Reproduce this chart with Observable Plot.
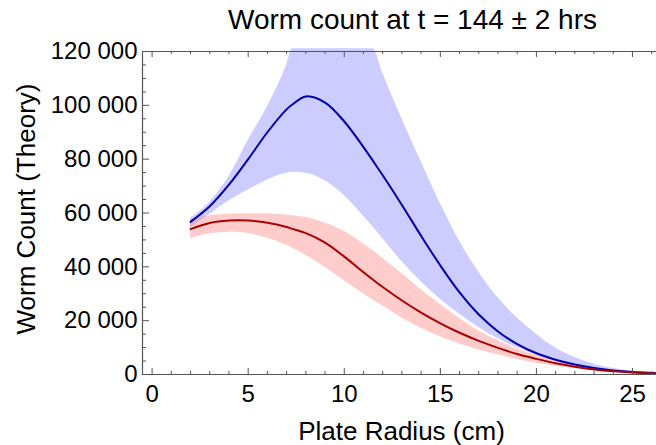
<!DOCTYPE html>
<html>
<head>
<meta charset="utf-8">
<script src="https://cdn.jsdelivr.net/npm/d3@7"></script>
<script src="https://cdn.jsdelivr.net/npm/@observablehq/plot@0.6"></script>
<style>
  html, body { margin: 0; padding: 0; background: #fff; }
  #chart svg { display: block; }
</style>
</head>
<body>
<div id="chart"></div>
<script>
// ---- data (values in thousands of worms) ----
const radius   = [2, 3, 4, 5, 6, 7, 7.3, 8, 9, 10, 11, 11.5, 12, 13, 14, 15, 16, 17, 18, 19, 20, 21, 22, 23, 24, 25, 26.25];
const blueMid  = [56.7, 62.5, 70.5, 80, 90, 98.5, 100.3, 103.3, 101, 94, 84.5, 79.3, 74, 63, 51.5, 40.5, 30.5, 22.3, 16, 11.3, 7.9, 5.5, 3.7, 2.4, 1.5, 0.9, 0.45];
const blueLow  = [54.5, 59.5, 64.5, 68.5, 72.3, 74.8, 75.1, 74.8, 72, 66.5, 58.8, 54.8, 50.5, 42, 34.5, 28, 22.5, 17.5, 13.3, 9.9, 7.1, 5.1, 3.5, 2.3, 1.4, 0.85, 0.4];
const blueHigh = [58, 64, 73.5, 87, 99.5, 115, 121, 121, 121, 121, 121, 121, 112, 95, 79, 63.5, 49.5, 38, 28.5, 21, 15, 9.8, 6.3, 3.8, 2.2, 1.2, 0.6];
const redMid   = [54, 56.3, 57.2, 57.2, 56.4, 54.8, 54.1, 52.5, 49, 43.8, 38, 35.2, 32.5, 27.5, 23, 19, 15.5, 12.5, 9.9, 7.6, 5.8, 4.2, 2.9, 1.9, 1.2, 0.75, 0.4];
const redLow   = [50.5, 52.3, 52.8, 52.4, 50.6, 48, 47, 44.3, 39.8, 34.8, 30, 27.7, 25.5, 21, 17.2, 14, 11.3, 9.1, 7.3, 5.6, 4.2, 3.1, 2.2, 1.5, 0.95, 0.55, 0.3];
const redHigh  = [57.5, 59, 59.5, 59.7, 59.6, 59.2, 59, 58.3, 56.3, 53.2, 48.5, 46, 43.2, 37.5, 31.5, 26, 20.8, 16.2, 12.5, 9.5, 7.1, 5.2, 3.7, 2.5, 1.6, 1.0, 0.5];

const xTicks = [0, 5, 10, 15, 20, 25];
const yTicks = [0, 20000, 40000, 60000, 80000, 100000, 120000];
const xDomain = [-0.5, 26.25];
const yDomain = [0, 120000];

const titleText = "Worm count at t = 144 ± 2 hrs";
const xLabel = "Plate Radius (cm)";
const yLabel = "Worm Count (Theory)";

// ---- build table ----
const rows = radius.map((r, i) => ({
  r,
  bMid: blueMid[i] * 1000, bLo: blueLow[i] * 1000, bHi: blueHigh[i] * 1000,
  rMid: redMid[i] * 1000, rLo: redLow[i] * 1000, rHi: redHigh[i] * 1000
}));

const xMinor = d3.range(0, 27, 1).filter(v => v <= xDomain[1] && v % 5 !== 0);
const yMinor = d3.range(0, 120001, 5000).filter(v => v % 20000 !== 0);

const W = 656, H = 445, mT = 51, mB = 71, mL = 142, mR = 0;
const FW = W - mL - mR, FH = H - mT - mB;
const axisColor = "#555";
const fmtY = d => d === 0 ? "0" : d3.format(",")(d).replace(/,/g, " ");

const chart = Plot.plot({
  width: W, height: H,
  marginTop: mT, marginBottom: mB, marginLeft: mL, marginRight: mR,
  style: { fontFamily: "'Liberation Sans', Arial, sans-serif", fontSize: "24px", color: "#000", background: "#fff" },
  x: { domain: xDomain },
  y: { domain: yDomain },
  marks: [
    Plot.areaY(rows, { x: "r", y1: "bLo", y2: "bHi", fill: "#8080ff", fillOpacity: 0.4, curve: "monotone-x" }),
    Plot.areaY(rows, { x: "r", y1: "rLo", y2: "rHi", fill: "#ff8080", fillOpacity: 0.4, curve: "catmull-rom" }),
    Plot.line(rows, { x: "r", y: "bMid", stroke: "#0000aa", strokeWidth: 2, curve: "catmull-rom" }),
    Plot.line(rows, { x: "r", y: "rMid", stroke: "#aa0000", strokeWidth: 2, curve: "catmull-rom" }),
    // frame (left, top, bottom)
    Plot.ruleX([xDomain[0]], { stroke: axisColor, strokeWidth: 1.2 }),
    Plot.ruleY([yDomain[0]], { stroke: axisColor, strokeWidth: 1.2 }),
    Plot.ruleY([yDomain[1]], { stroke: axisColor, strokeWidth: 1.2 }),
    // inward ticks bottom
    Plot.tickX(xTicks, { x: d => d, insetTop: FH - 6, stroke: axisColor }),
    Plot.tickX(xMinor, { x: d => d, insetTop: FH - 3, stroke: axisColor }),
    // inward ticks top
    Plot.tickX(xTicks, { x: d => d, insetBottom: FH - 6, stroke: axisColor }),
    Plot.tickX(xMinor, { x: d => d, insetBottom: FH - 3, stroke: axisColor }),
    // inward ticks left
    Plot.tickY(yTicks, { y: d => d, insetRight: FW - 7, stroke: axisColor }),
    Plot.tickY(yMinor, { y: d => d, insetRight: FW - 4, stroke: axisColor }),
    // axes labels
    Plot.axisX({ ticks: xTicks, tickSize: 0, tickPadding: 10, label: null, fontSize: 24 }),
    Plot.axisY({ ticks: yTicks, tickSize: 0, tickPadding: 5, tickFormat: fmtY, label: null, fontSize: 24 }),
    Plot.text([xLabel], { text: d => d, frameAnchor: "bottom", textAnchor: "middle", dy: 57, dx: 2, fontSize: 26, lineAnchor: "middle" }),
    Plot.text([yLabel], { text: d => d, frameAnchor: "left", textAnchor: "middle", dx: -116, dy: -4, rotate: -90, fontSize: 26, lineAnchor: "middle" }),
    Plot.text([titleText], { text: d => d, frameAnchor: "top", textAnchor: "middle", dy: -31, dx: 13, fontSize: 28, lineAnchor: "middle" })
  ]
});
document.getElementById("chart").appendChild(chart);
</script>
</body>
</html>
